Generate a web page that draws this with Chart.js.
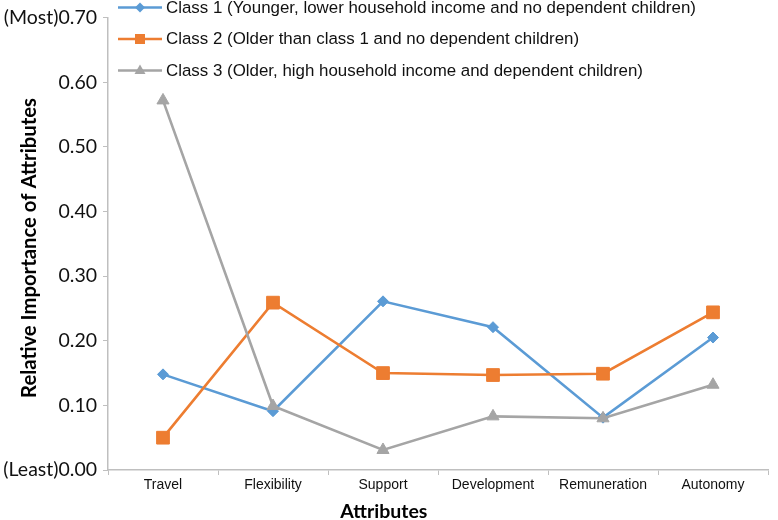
<!DOCTYPE html>
<html>
<head>
<meta charset="utf-8">
<script src="https://cdn.jsdelivr.net/npm/chart.js"></script>
<style>
  html, body { margin: 0; padding: 0; background: #fff; }
</style>
</head>
<body>
<canvas id="grafico" width="778" height="520"></canvas>
<script>
const atributos = ['Travel', 'Flexibility', 'Support', 'Development', 'Remuneration', 'Autonomy'];

const clase1 = [0.148, 0.091, 0.261, 0.221, 0.081, 0.205];
const clase2 = [0.050, 0.259, 0.150, 0.147, 0.149, 0.244];
const clase3 = [0.572, 0.099, 0.031, 0.083, 0.080, 0.132];

const etiquetasY = ['(Least)0.00', '0.10', '0.20', '0.30', '0.40', '0.50', '0.60', '(Most)0.70'];

const nombres = [
    'Class 1 (Younger, lower household income and no dependent children)',
    'Class 2 (Older than class 1 and no dependent children)',
    'Class 3 (Older, high household income and dependent children)'
];

const colorEje = '#bfbfbf';

// dibuja el marcador de la leyenda
function marcador(ctx, estilo, x, y, color) {
    ctx.fillStyle = color;
    ctx.beginPath();
    if (estilo === 'rectRot') {
        ctx.moveTo(x, y - 5); ctx.lineTo(x + 5, y); ctx.lineTo(x, y + 5); ctx.lineTo(x - 5, y);
    } else if (estilo === 'rect') {
        ctx.rect(x - 5, y - 5, 10, 10);
    } else {
        ctx.moveTo(x, y - 6); ctx.lineTo(x + 5.5, y + 3.5); ctx.lineTo(x - 5.5, y + 3.5);
    }
    ctx.closePath();
    ctx.fill();
}

const leyenda = {
    id: 'leyendaLineas',
    afterDraw(chart) {
        const ctx = chart.ctx;
        chart.data.datasets.forEach((d, i) => {
            const y = 7.5 + i * 31.5;
            ctx.save();
            ctx.strokeStyle = d.borderColor;
            ctx.lineWidth = 2.5;
            ctx.beginPath();
            ctx.moveTo(118, y);
            ctx.lineTo(162, y);
            ctx.stroke();
            marcador(ctx, d.pointStyle, 140, y, d.borderColor);
            ctx.fillStyle = '#111';
            ctx.font = '16.9px "Liberation Sans", Arial, sans-serif';
            ctx.textBaseline = 'middle';
            ctx.fillText(d.label, 166, y + 0.5);
            ctx.restore();
        });
        // titulos de los ejes
        const area = chart.chartArea;
        ctx.save();
        ctx.fillStyle = '#000';
        ctx.font = 'bold 19.5px Lato, sans-serif';
        ctx.textAlign = 'center';
        ctx.textBaseline = 'middle';
        ctx.fillText('Attributes', area.left + (area.right - area.left) * 0.418, 512);
        ctx.translate(29.5, 248);
        ctx.rotate(-Math.PI / 2);
        ctx.font = 'bold 20.3px Lato, sans-serif';
        ctx.fillText('Relative Importance of Attributes', 0, 0);
        ctx.restore();
    }
};

new Chart(document.getElementById('grafico').getContext('2d'), {
    type: 'line',
    data: {
        labels: atributos,
        datasets: [
            {
                label: nombres[0],
                data: clase1,
                borderColor: '#5b9bd5',
                backgroundColor: '#5b9bd5',
                borderWidth: 2.6,
                pointStyle: 'rectRot',
                pointRadius: 5.5,
                pointBorderWidth: 1,
                order: 2
            },
            {
                label: nombres[1],
                data: clase2,
                borderColor: '#ed7d31',
                backgroundColor: '#ed7d31',
                borderWidth: 2.6,
                pointStyle: 'rect',
                pointRadius: 9,
                pointBorderWidth: 1,
                order: 1
            },
            {
                label: nombres[2],
                data: clase3,
                borderColor: '#a5a5a5',
                backgroundColor: '#a5a5a5',
                borderWidth: 2.6,
                pointStyle: 'triangle',
                pointRadius: 7,
                pointBorderWidth: 1,
                order: 0
            }
        ]
    },
    options: {
        responsive: false,
        animation: false,
        devicePixelRatio: 1,
        layout: { padding: { left: 0, right: 4, top: 15, bottom: 0 } },
        plugins: {
            legend: { display: false },
            tooltip: { enabled: false }
        },
        scales: {
            x: {
                offset: true,
                afterFit: s => { s.height = 50; },
                grid: { offset: true, drawOnChartArea: false, tickLength: 5, color: colorEje },
                border: { color: colorEje, width: 1.5 },
                ticks: {
                    color: '#111',
                    padding: 2,
                    maxRotation: 0,
                    font: { family: '"Liberation Sans", Arial, sans-serif', size: 14 }
                }
            },
            y: {
                min: 0,
                max: 0.7,
                afterFit: s => { s.width = 108; },
                grid: { drawOnChartArea: false, tickLength: 5, color: colorEje },
                border: { color: colorEje, width: 1.5 },
                ticks: {
                    stepSize: 0.1,
                    padding: 6,
                    color: '#111',
                    font: { family: 'Lato, sans-serif', size: 19.5 },
                    callback: (v, i) => etiquetasY[i]
                }
            }
        }
    },
    plugins: [leyenda]
});
</script>
</body>
</html>
